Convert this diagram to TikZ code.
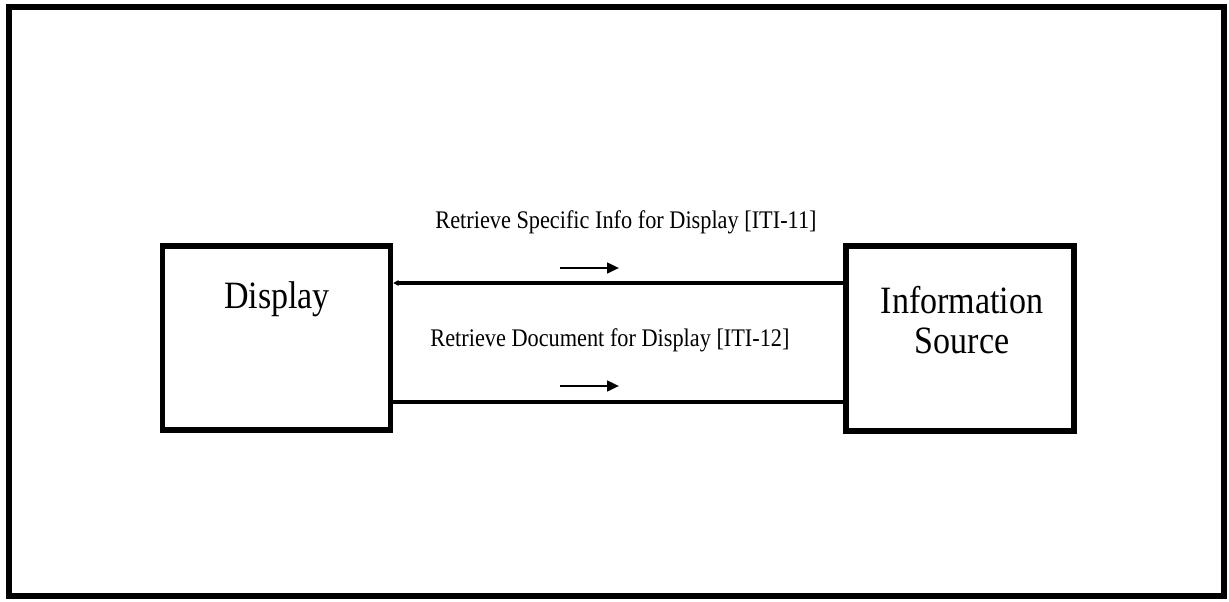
\documentclass[tikz,border=0pt]{standalone}
\usepackage{fontspec}
\setmainfont{Liberation Serif}[FakeStretch=0.88]
\usetikzlibrary{arrows.meta}
\begin{document}
\begin{tikzpicture}[
            x=0.75pt, y=-0.75pt,
            box/.style={rectangle, draw, line width=4.3pt, minimum width=171pt, minimum height=138.5pt},
            boxtext/.style={font=\fontsize{29}{30}\selectfont, align=center},
            lbl/.style={font=\fontsize{19}{20}\selectfont},
            link/.style={line width=2.8pt},
            dirarrow/.style={-{Triangle[length=9pt, width=8pt]}, line width=1.9pt}
        ]
            % Frame
            \useasboundingbox (0,0) rectangle (1229,601);
            \draw[line width=4.5pt] (9,7) rectangle (1224,596);

            % Display
            \node[box] (display) at (276.5,338) {};
            \node[boxtext] (displaytext) at (277,299) {Display};

            % Information Source
            \node[box] (infosrc) at (960,338.5) {};
            \node[boxtext] (infosrctext) at (962,320) {Information\\Source};

            % Transactions
            \node[lbl] (specinfo) at (626,222) {Retrieve Specific Info for Display [ITI-11]};
            \node[lbl] (document) at (610,340) {Retrieve Document for Display [ITI-12]};

            % Connections
            \draw[link, {Stealth[length=4pt, width=4.5pt]}-] (display.east |- 0,283) -- (infosrc.west |- 0,283);
            \draw[link] (display.east |- 0,402) -- (infosrc.west |- 0,402);

            % Direction
            \draw[dirarrow] (560,268) -- (619,268);
            \draw[dirarrow] (560,386) -- (619,386);

        \end{tikzpicture}
\end{document}
